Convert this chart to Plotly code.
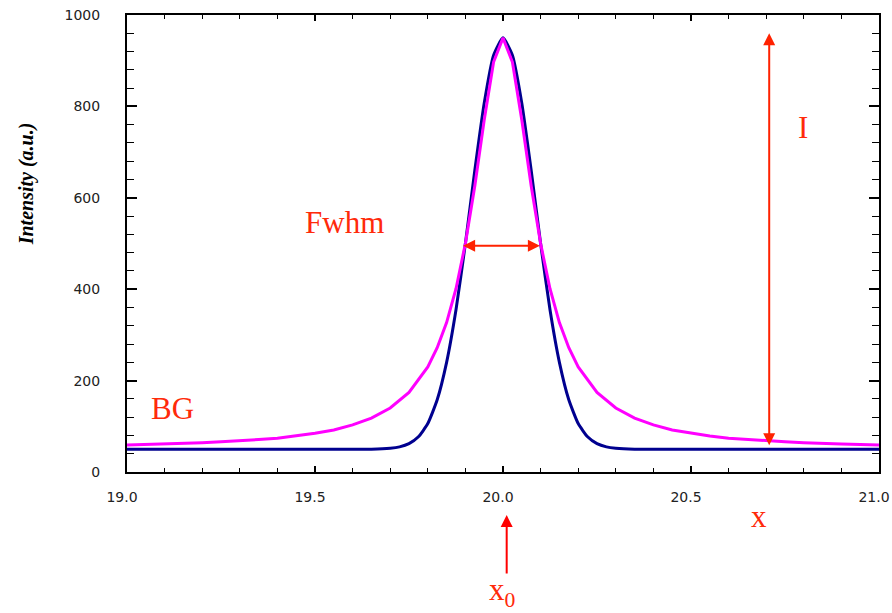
import plotly.graph_objects as go

# ---- data ----
# Gaussian-like profile (navy)
x_gauss = [19.0, 19.5, 19.65, 19.7, 19.725, 19.75, 19.775, 19.8, 19.825, 19.85, 19.875,
           19.9, 19.925, 19.95, 19.975, 20.0, 20.025, 20.05, 20.075, 20.1, 20.125,
           20.15, 20.175, 20.2, 20.225, 20.25, 20.275, 20.3, 20.35, 20.5, 21.0]
y_gauss = [50, 50, 50, 52, 55, 62, 77, 106, 158, 240, 355,
           500, 660, 807, 912, 950, 912, 807, 660, 500, 355,
           240, 158, 106, 77, 62, 55, 52, 50, 50, 50]

# Lorentzian-like profile (magenta)
x_lor = [19.0, 19.05, 19.1, 19.15, 19.2, 19.25, 19.3, 19.35, 19.4, 19.45, 19.5,
         19.55, 19.6, 19.65, 19.7, 19.75, 19.8, 19.825, 19.85, 19.875, 19.9,
         19.925, 19.95, 19.975, 20.0, 20.025, 20.05, 20.075, 20.1, 20.125, 20.15,
         20.175, 20.2, 20.25, 20.3, 20.35, 20.4, 20.45, 20.5, 20.55, 20.6,
         20.65, 20.7, 20.75, 20.8, 20.85, 20.9, 20.95, 21.0]
y_lor = [59, 60, 61, 62, 64, 66, 68, 71, 74, 79, 85,
         92, 103, 118, 140, 174, 230, 272, 327, 401, 500,
         626, 770, 897, 950, 897, 770, 626, 500, 401, 327,
         272, 230, 174, 140, 118, 103, 92, 85, 79, 74,
         71, 68, 66, 64, 62, 61, 60, 59]

x_ticks = [19.0, 19.5, 20.0, 20.5, 21.0]
x_tick_text = ["19.0", "19.5", "20.0", "20.5", "21.0"]
y_ticks = [0, 200, 400, 600, 800, 1000]

RED = "#ff2a0a"
ARROW = "#ff2200"
SERIF = "Liberation Serif, Times New Roman, serif"

fig = go.Figure()
fig.add_trace(go.Scatter(x=x_gauss, y=y_gauss, mode="lines",
                         line=dict(color="#00008f", width=3, shape="spline", smoothing=0.5),
                         showlegend=False))
fig.add_trace(go.Scatter(x=x_lor, y=y_lor, mode="lines",
                         line=dict(color="#ff00ff", width=3), showlegend=False))

axis_common = dict(showgrid=False, zeroline=False, showline=True, linecolor="black",
                   linewidth=2, mirror="allticks", ticks="inside", tickcolor="black",
                   automargin=False, ticklabeloverflow="allow",
                   tickfont=dict(family="DejaVu Sans, Verdana, sans-serif", size=14, color="#222"))

fig.update_xaxes(range=[19.0, 21.0], tickvals=x_ticks, ticktext=x_tick_text,
                 ticklen=6, tickwidth=2, ticklabelstandoff=11, ticklabelshift=-5,
                 minor=dict(dtick=0.1, ticklen=4, tickwidth=1, ticks="inside", tickcolor="black"),
                 **axis_common)
fig.update_yaxes(range=[0, 1000], tickvals=y_ticks,
                 ticklen=10, tickwidth=2, ticklabelstandoff=22,
                 minor=dict(dtick=40, ticklen=7, tickwidth=1, ticks="inside", tickcolor="black"),
                 **axis_common)

ann = []
# y-axis title
ann.append(dict(text="<b><i>Intensity (a.u.)</i></b>", xref="paper", yref="paper",
                x=-0.134, y=0.63, textangle=-90, showarrow=False,
                font=dict(family=SERIF, size=20, color="black"),
                xanchor="center", yanchor="middle"))
# text labels inside the plot
for txt, xx, yy in [("Fwhm", 19.579, 545), ("BG", 19.121, 138), ("I", 20.799, 753)]:
    ann.append(dict(text=txt, x=xx, y=yy, xref="x", yref="y", showarrow=False,
                    font=dict(family=SERIF, size=31, color=RED),
                    xanchor="center", yanchor="middle"))
# text labels below the plot
for txt, xx, yy in [("x", 0.8409, -0.0963), ("x<sub>0</sub>", 0.4987, -0.262)]:
    ann.append(dict(text=txt, x=xx, y=yy, xref="paper", yref="paper", showarrow=False,
                    font=dict(family=SERIF, size=31, color=RED),
                    xanchor="center", yanchor="middle"))
# FWHM double arrow
ann.append(dict(text="", x=20.098, y=495, ax=19.89, ay=495, xref="x", yref="y",
                axref="x", ayref="y", showarrow=True, arrowhead=2, startarrowhead=2,
                arrowside="end+start", arrowsize=1.2, startarrowsize=1.2, arrowwidth=2,
                arrowcolor=ARROW))
# Intensity double arrow
ann.append(dict(text="", x=20.708, y=960, ax=20.708, ay=55, xref="x", yref="y",
                axref="x", ayref="y", showarrow=True, arrowhead=2, startarrowhead=2,
                arrowside="end+start", arrowsize=1.2, startarrowsize=1.2, arrowwidth=2,
                arrowcolor=ARROW))
# x0 arrow (below the axis)
ann.append(dict(text="", x=0.5049, y=-0.0941, xref="paper", yref="paper",
                axref="pixel", ayref="pixel", ax=0, ay=60, showarrow=True, arrowhead=2,
                arrowsize=1.2, arrowwidth=2, arrowcolor="#ff0000"))

fig.update_layout(width=892, height=613, margin=dict(l=127, r=13, t=15, b=141),
                  plot_bgcolor="white", paper_bgcolor="white", annotations=ann,
                  showlegend=False)

fig.write_html("out.html", config={"displayModeBar": False},
               post_script="document.body.style.margin='0';")
